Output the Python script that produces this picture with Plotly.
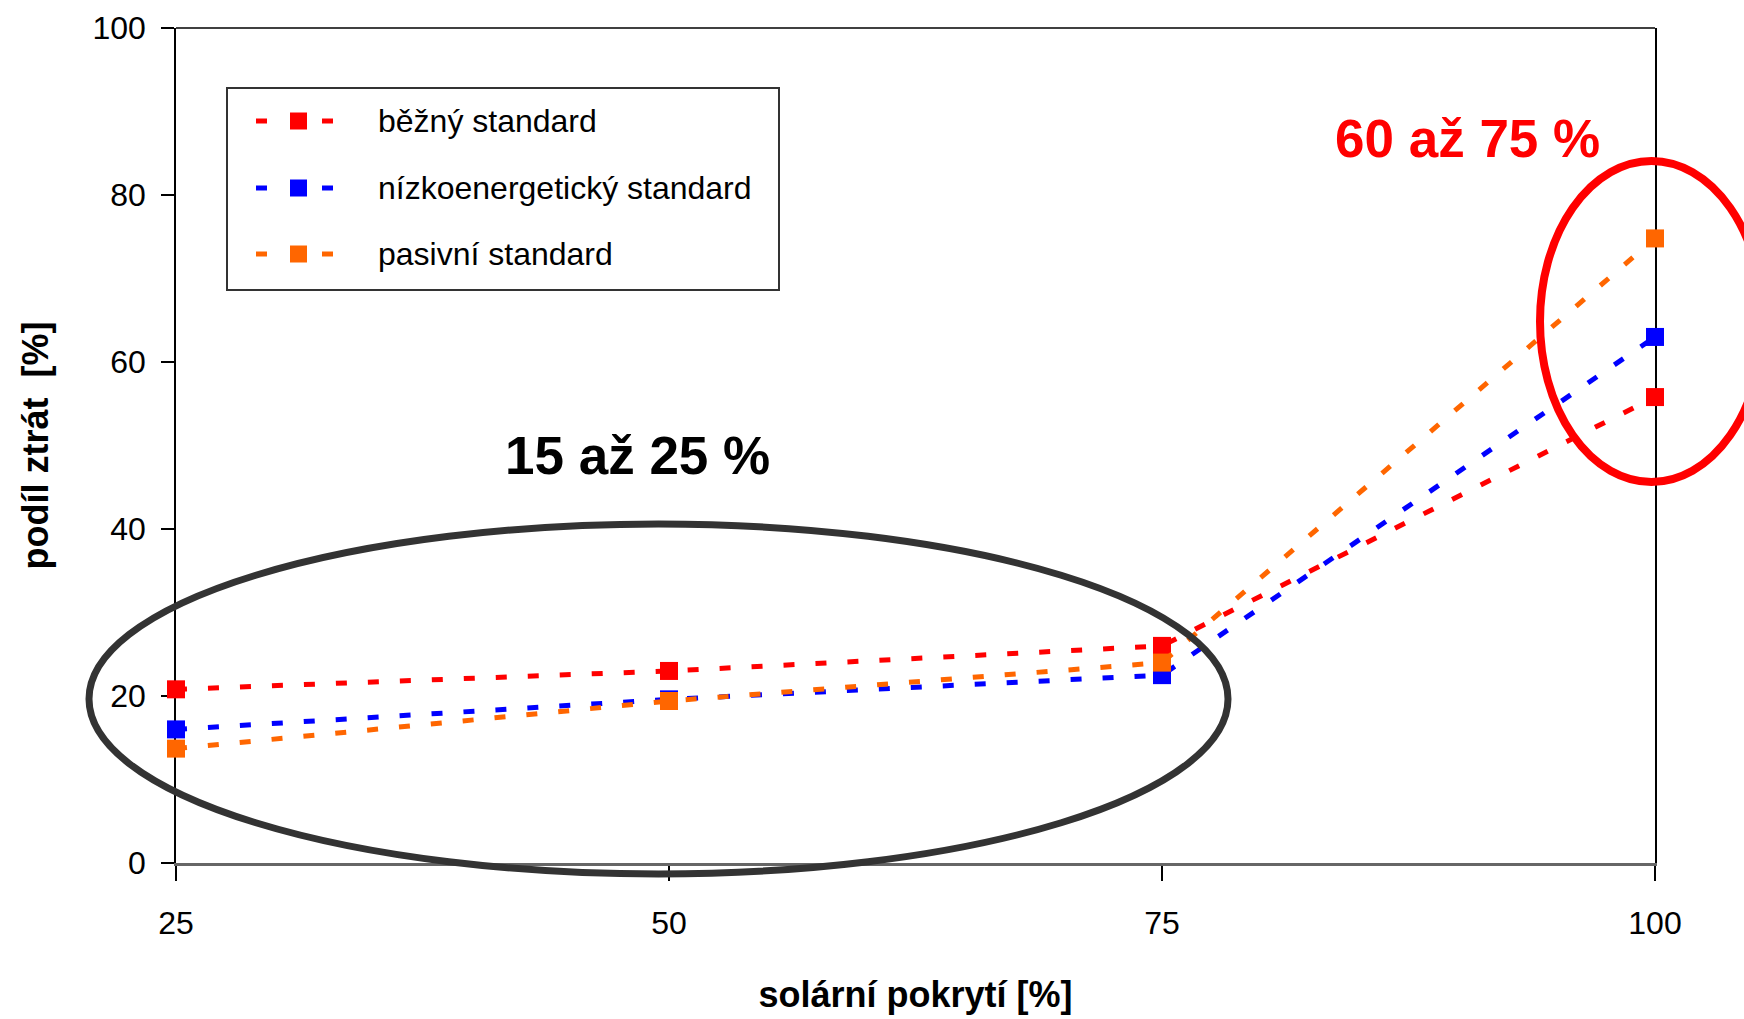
import plotly.graph_objects as go

# Solar coverage levels [%] and share of losses [%] per building standard
coverage = [25, 50, 75, 100]
bezny = [20.8, 23.0, 26.0, 55.8]
nizkoenergeticky = [16.0, 19.6, 22.5, 63.0]
pasivni = [13.7, 19.4, 24.0, 74.8]

series_names = ["běžný standard", "nízkoenergetický standard", "pasivní standard"]
series_values = [bezny, nizkoenergeticky, pasivni]
series_colors = ["#FF0000", "#0000FF", "#FF6600"]

y_ticks = [0, 20, 40, 60, 80, 100]
x_ticks = [25, 50, 75, 100]

W, H = 1744, 1019
L, R, T, B = 176, 1655, 28, 863  # plot area in pixels

FONT = "Liberation Sans, Arial, sans-serif"


def px(x):
    return (x - L) / (R - L)


def py(y):
    return (B - y) / (B - T)


fig = go.Figure()

for name, vals, col in zip(series_names, series_values, series_colors):
    fig.add_trace(go.Scatter(
        x=coverage, y=vals, name=name, mode="lines+markers",
        line=dict(color=col, width=5, dash="11px,21px"),
        marker=dict(symbol="square", size=18, color=col),
        cliponaxis=False, showlegend=False,
    ))

shapes = []
# top frame line
shapes.append(dict(type="line", xref="paper", yref="paper",
                   x0=0, x1=1, y0=1, y1=1, line=dict(color="#000", width=1.5)))

# highlight ellipses
shapes.append(dict(type="circle", xref="paper", yref="paper",
                   x0=px(89), x1=px(1228), y0=py(874), y1=py(524),
                   line=dict(color="#333333", width=7)))
shapes.append(dict(type="circle", xref="paper", yref="paper",
                   x0=px(1540), x1=px(1763), y0=py(482), y1=py(161),
                   line=dict(color="#FF0000", width=8)))

# legend box
shapes.append(dict(type="rect", xref="paper", yref="paper",
                   x0=px(227), x1=px(779), y0=py(290), y1=py(88),
                   line=dict(color="#333333", width=2), fillcolor="white", layer="below"))

annotations = []
row_y = [121, 188, 254]
for name, col, ry in zip(series_names, series_colors, row_y):
    for a, b in [(256, 267), (322, 333)]:
        shapes.append(dict(type="line", xref="paper", yref="paper",
                           x0=px(a), x1=px(b), y0=py(ry), y1=py(ry),
                           line=dict(color=col, width=5)))
    shapes.append(dict(type="rect", xref="paper", yref="paper",
                       x0=px(290), x1=px(307), y0=py(ry + 8.5), y1=py(ry - 8.5),
                       line=dict(width=0), fillcolor=col))
    annotations.append(dict(xref="paper", yref="paper", x=px(376), y=py(ry),
                            text=name, showarrow=False, xanchor="left", yanchor="middle",
                            font=dict(family=FONT, size=32, color="#000")))

annotations.append(dict(xref="paper", yref="paper", x=px(637), y=py(455),
                        text="<b>15 až 25 %</b>", showarrow=False,
                        xanchor="center", yanchor="middle",
                        font=dict(family=FONT, size=53, color="#000")))
annotations.append(dict(xref="paper", yref="paper", x=px(1467), y=py(139),
                        text="<b>60 až 75 %</b>", showarrow=False,
                        xanchor="center", yanchor="middle",
                        font=dict(family=FONT, size=53, color="#FF0000")))

fig.update_layout(
    width=W, height=H,
    margin=dict(l=L, r=W - R, t=T, b=H - B),
    paper_bgcolor="white", plot_bgcolor="white",
    showlegend=False,
    shapes=shapes, annotations=annotations,
    xaxis=dict(
        range=[25, 100], tickvals=x_ticks, ticktext=[str(v) for v in x_ticks],
        automargin=False,
        showgrid=False, zeroline=False,
        showline=True, linecolor="#666666", linewidth=3, layer="below traces",
        ticks="outside", ticklen=15, tickcolor="#000", tickwidth=1.5,
        ticklabelstandoff=15,
        tickfont=dict(family=FONT, size=32, color="#000"),
        title=dict(text="<b>solární pokrytí [%]</b>", standoff=42,
                   font=dict(family=FONT, size=36, color="#000")),
    ),
    yaxis=dict(
        range=[0, 100], tickvals=y_ticks,
        automargin=False,
        showgrid=False, zeroline=False,
        showline=True, linecolor="#000", linewidth=1.5, mirror=True, layer="below traces",
        ticks="outside", ticklen=13, tickcolor="#000", tickwidth=1.5,
        ticklabelstandoff=9,
        tickfont=dict(family=FONT, size=32, color="#000"),
        title=dict(text="<b>podíl ztrát\u00a0\u00a0[%]</b>", standoff=33,
                   font=dict(family=FONT, size=36, color="#000")),
    ),
)

fig.write_html("out.html")
